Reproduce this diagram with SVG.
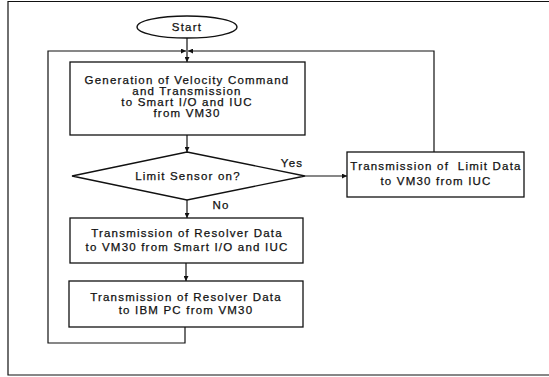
<svg xmlns="http://www.w3.org/2000/svg" width="549" height="377" viewBox="0 0 549 377">
<style>
.shape{fill:#fff;stroke:#111;stroke-width:1.3}
.ln{fill:none;stroke:#111;stroke-width:1.2}
text{font-family:"Liberation Sans",Arial,sans-serif;font-size:11.5px;fill:#111;text-anchor:middle;letter-spacing:1.2px;stroke:#111;stroke-width:0.25}
</style>
<defs>
<marker id="ah" viewBox="0 0 8 8" refX="8" refY="4" markerWidth="5" markerHeight="5" orient="auto" markerUnits="userSpaceOnUse">
<path d="M0,0 L8,4 L0,8 Z" fill="#111"/>
</marker>
</defs>
<rect width="549" height="377" fill="#fff"/>
<polyline class="ln" points="549,1.5 8,1.5 8,375 549,375" stroke="#333"/>
<g id="connectors">
<line class="ln" x1="187" y1="38" x2="187" y2="62" marker-end="url(#ah)"/>
<polyline class="ln" points="185,327 185,343 48,343 48,51 186,51" marker-end="url(#ah)"/>
<polyline class="ln" points="434,152 434,51 188,51" marker-end="url(#ah)"/>
<line class="ln" x1="187" y1="135" x2="187" y2="152" marker-end="url(#ah)"/>
<line class="ln" x1="305" y1="176" x2="347" y2="176" marker-end="url(#ah)"/>
<line class="ln" x1="187" y1="200" x2="187" y2="218" marker-end="url(#ah)"/>
<line class="ln" x1="186" y1="263" x2="186" y2="281" marker-end="url(#ah)"/>
<text x="292" y="167">Yes</text>
<text x="221" y="209">No</text>
</g>
<g id="start">
<ellipse class="shape" cx="187" cy="27" rx="50" ry="11"/>
<text x="187" y="31">Start</text>
</g>
<g id="gen">
<rect class="shape" x="70" y="62" width="235" height="73"/>
<text x="187" y="84">Generation of Velocity Command</text>
<text x="187" y="95">and Transmission</text>
<text x="187" y="106">to Smart I/O and IUC</text>
<text x="187" y="117">from VM30</text>
</g>
<g id="limit">
<polygon class="shape" points="187,152 305,176 187,200 72,176"/>
<text x="188" y="180">Limit Sensor on?</text>
</g>
<g id="limitdata">
<rect class="shape" x="347" y="152" width="177" height="45"/>
<text x="436" y="170" xml:space="preserve">Transmission of  Limit Data</text>
<text x="436" y="185">to VM30 from IUC</text>
</g>
<g id="resolver1">
<rect class="shape" x="70" y="218" width="233" height="45"/>
<text x="187" y="237">Transmission of Resolver Data</text>
<text x="187" y="251">to VM30 from Smart I/O and IUC</text>
</g>
<g id="resolver2">
<rect class="shape" x="69" y="281" width="234" height="46"/>
<text x="186" y="301">Transmission of Resolver Data</text>
<text x="186" y="314">to IBM PC from VM30</text>
</g>
</svg>
